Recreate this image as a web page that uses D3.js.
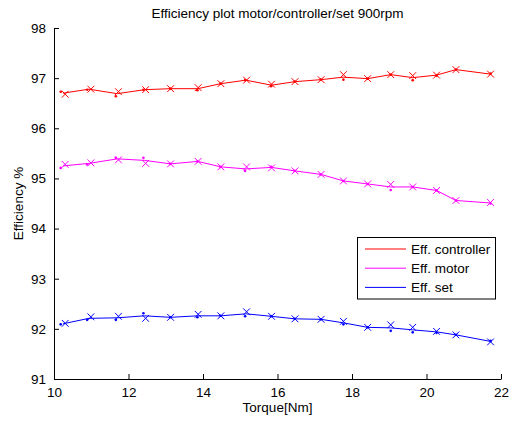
<!DOCTYPE html>
<html>
<head>
<meta charset="utf-8">
<title>Efficiency plot</title>
<script src="https://cdn.jsdelivr.net/npm/d3@7"></script>
<style>
  body { margin: 0; background: #fff; }
  svg { font-family: "Liberation Sans", Arial, sans-serif; }
</style>
</head>
<body>
<svg id="chart" width="513" height="423"></svg>
<script>
// torque of the "x" measurement, the "." measurement and the line (mean)
var torqueX    = [10.30, 10.99, 11.73, 12.46, 13.13, 13.87, 14.48, 15.17, 15.84, 16.47, 17.17, 17.77, 18.42, 19.04, 19.63, 20.27, 20.79, 21.72];
var torqueDot  = [10.18, 10.89, 11.66, 12.40, 13.12, 13.85, 14.47, 15.13, 15.83, 16.46, 17.16, 17.77, 18.42, 19.04, 19.63, 20.27, 20.79, 21.72];
var torqueLine = [10.24, 10.94, 11.70, 12.43, 13.13, 13.86, 14.48, 15.15, 15.84, 16.47, 17.17, 17.77, 18.42, 19.04, 19.63, 20.27, 20.79, 21.72];

var ctrlX    = [96.68, 96.78, 96.73, 96.77, 96.79, 96.81, 96.89, 96.96, 96.88, 96.93, 96.97, 97.07, 96.99, 97.07, 97.05, 97.06, 97.17, 97.08];
var ctrlDot  = [96.73, 96.77, 96.64, 96.77, 96.79, 96.76, 96.89, 96.96, 96.84, 96.93, 96.97, 96.97, 96.99, 97.07, 96.96, 97.05, 97.17, 97.09];
var ctrlLine = [96.70, 96.78, 96.69, 96.77, 96.79, 96.79, 96.89, 96.96, 96.86, 96.93, 96.97, 97.02, 96.99, 97.07, 97.01, 97.06, 97.17, 97.08];

var motorX    = [95.28, 95.31, 95.37, 95.30, 95.29, 95.34, 95.23, 95.23, 95.21, 95.15, 95.08, 94.95, 94.89, 94.88, 94.83, 94.76, 94.56, 94.52];
var motorDot  = [95.21, 95.28, 95.41, 95.41, 95.29, 95.34, 95.23, 95.15, 95.23, 95.15, 95.08, 94.95, 94.89, 94.77, 94.83, 94.76, 94.56, 94.50];
var motorLine = [95.25, 95.30, 95.39, 95.36, 95.29, 95.34, 95.23, 95.19, 95.22, 95.15, 95.08, 94.95, 94.89, 94.83, 94.83, 94.76, 94.56, 94.51];

var setX    = [92.11, 92.24, 92.25, 92.21, 92.23, 92.29, 92.26, 92.34, 92.25, 92.20, 92.19, 92.15, 92.03, 92.08, 92.03, 91.95, 91.88, 91.74];
var setDot  = [92.09, 92.18, 92.18, 92.31, 92.23, 92.23, 92.26, 92.25, 92.25, 92.20, 92.19, 92.09, 92.03, 91.96, 91.93, 91.92, 91.88, 91.76];
var setLine = [92.10, 92.21, 92.22, 92.26, 92.23, 92.26, 92.26, 92.30, 92.25, 92.20, 92.19, 92.12, 92.03, 92.02, 91.98, 91.94, 91.88, 91.75];

var seriesNames  = ["Eff. controller", "Eff. motor", "Eff. set"];
var seriesColors = ["#ff0000", "#ff00ff", "#0000ff"];
var xTicks = [10, 12, 14, 16, 18, 20, 22];
var yTicks = [91, 92, 93, 94, 95, 96, 97, 98];

var svg = d3.select("#chart");
var plotLeft = 54, plotRight = 501, plotTop = 28, plotBottom = 379;
var fs = 13.5;

var x = d3.scaleLinear().domain([10, 22]).range([plotLeft, plotRight]);
var y = d3.scaleLinear().domain([91, 98]).range([plotBottom, plotTop]);

// axes, ticks pointing inward, no box
svg.append("g")
    .attr("transform", "translate(0," + plotBottom + ")")
    .call(d3.axisBottom(x).tickValues(xTicks).tickFormat(d3.format("d"))
        .tickSizeInner(-5).tickSizeOuter(0).tickPadding(8))
    .call(function(g) {
        g.select(".domain").attr("stroke", "#000");
        g.selectAll("text").attr("font-size", fs).attr("fill", "#000");
    });

svg.append("g")
    .attr("transform", "translate(" + plotLeft + ",0)")
    .call(d3.axisLeft(y).tickValues(yTicks).tickFormat(d3.format("d"))
        .tickSizeInner(-5).tickSizeOuter(0).tickPadding(8))
    .call(function(g) {
        g.select(".domain").attr("stroke", "#000");
        g.selectAll("text").attr("font-size", fs).attr("fill", "#000");
    });

svg.append("text")
    .attr("x", (plotLeft + plotRight) / 2).attr("y", 18)
    .attr("text-anchor", "middle").attr("font-size", fs)
    .text("Efficiency plot motor/controller/set 900rpm");

svg.append("text")
    .attr("x", (plotLeft + plotRight) / 2).attr("y", 412)
    .attr("text-anchor", "middle").attr("font-size", fs)
    .text("Torque[Nm]");

svg.append("text")
    .attr("transform", "translate(23," + ((plotTop + plotBottom) / 2) + ") rotate(-90)")
    .attr("text-anchor", "middle").attr("font-size", fs)
    .text("Efficiency %");

var series = [
    { xs: ctrlX, dots: ctrlDot, line: ctrlLine },
    { xs: motorX, dots: motorDot, line: motorLine },
    { xs: setX, dots: setDot, line: setLine }
];

var line = d3.line()
    .x(function(d) { return x(d[0]); })
    .y(function(d) { return y(d[1]); });

series.forEach(function(s, i) {
    var c = seriesColors[i];
    var g = svg.append("g");

    g.append("path")
        .datum(d3.zip(torqueLine, s.line))
        .attr("d", line)
        .attr("fill", "none")
        .attr("stroke", c)
        .attr("stroke-width", 1);

    g.selectAll(".mx")
        .data(d3.zip(torqueX, s.xs))
        .enter().append("path")
        .attr("d", d3.symbol(d3.symbolX, 32))
        .attr("transform", function(d) { return "translate(" + x(d[0]) + "," + y(d[1]) + ")"; })
        .attr("fill", "none")
        .attr("stroke", c)
        .attr("stroke-width", 1);

    g.selectAll(".dot")
        .data(d3.zip(torqueDot, s.dots))
        .enter().append("circle")
        .attr("cx", function(d) { return x(d[0]); })
        .attr("cy", function(d) { return y(d[1]); })
        .attr("r", 1.3)
        .attr("fill", c);
});

// legend
var legend = svg.append("g");
legend.append("rect")
    .attr("x", 357.5).attr("y", 237.5)
    .attr("width", 138).attr("height", 61.5)
    .attr("fill", "#fff").attr("stroke", "#000");

seriesNames.forEach(function(name, i) {
    var ly = 249 + i * 19.2;
    legend.append("line")
        .attr("x1", 365).attr("x2", 406)
        .attr("y1", ly).attr("y2", ly)
        .attr("stroke", seriesColors[i]);
    legend.append("text")
        .attr("x", 411).attr("y", ly + 5)
        .attr("font-size", fs)
        .text(name);
});
</script>
</body>
</html>
